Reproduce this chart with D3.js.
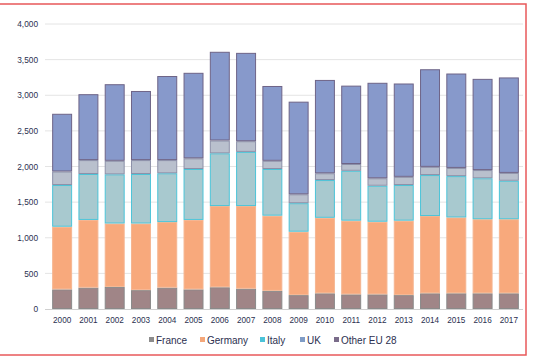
<!DOCTYPE html>
<html><head><meta charset="utf-8">
<script src="https://cdn.jsdelivr.net/npm/d3@7"></script>
<style>
html,body{margin:0;padding:0;background:#fff;}
svg{display:block;font-family:"Liberation Sans",Arial,sans-serif;}
</style>
</head><body>
<svg id="chart" width="533" height="359"></svg>
<script>
const years = ["2000","2001","2002","2003","2004","2005","2006","2007","2008","2009","2010","2011","2012","2013","2014","2015","2016","2017"];
const seriesNames = ["France","Germany","Italy","UK","Other EU 28"];
const france  = [275,300,310,265,300,275,305,285,255,195,220,205,205,195,220,220,220,220];
const germany = [880,950,890,935,920,975,1140,1160,1055,890,1060,1035,1020,1045,1085,1065,1040,1040];
const italy   = [585,645,690,695,685,715,740,760,655,400,530,700,505,500,575,580,575,540];
const uk      = [190,195,190,195,185,150,180,150,115,125,95,95,105,115,115,115,115,110];
const other   = [810,925,1075,970,1180,1200,1245,1240,1050,1300,1310,1100,1340,1310,1370,1325,1280,1340];
const yTicks = [0,500,1000,1500,2000,2500,3000,3500,4000];

const fills   = ["#a08587","#f8a97c","#a8c9cf","#b9c0cd","#8799cb"];
const strokes = ["#8a8a8a","#f5b591","#4cc4d8","#8c90a8","#6e6487"];
const legendColors = ["#8c8c8c","#f4a77a","#4cc3d9","#7f9cc6","#7a6c8a"];

const values = [france, germany, italy, uk, other];
const rows = years.map((y,i)=>{
  const r = {year:y};
  seriesNames.forEach((s,k)=> r[s] = values[k][i]);
  return r;
});
const stacked = d3.stack().keys(seriesNames)(rows);

const svg = d3.select("#chart");
// red frame
svg.append("rect").attr("x",-2).attr("y",4).attr("width",528).attr("height",351)
  .attr("fill","none").attr("stroke","#e8585a").attr("stroke-width",1.5);

const x = d3.scaleBand().domain(years).range([49,522]).paddingInner(0.24).paddingOuter(0.12);
const y = d3.scaleLinear().domain([0,4000]).range([309,24]);

// gridlines
svg.append("g").selectAll("line").data(yTicks.filter(t=>t>0)).join("line")
  .attr("x1",45).attr("x2",523).attr("y1",d=>y(d)).attr("y2",d=>y(d))
  .attr("stroke","#e4e4e4").attr("stroke-width",1);

// y axis labels
const yAxis = d3.axisLeft(y).tickValues(yTicks).tickSize(0).tickPadding(0)
  .tickFormat(d3.format(","));
const gy = svg.append("g").attr("transform","translate(38,0)").call(yAxis);
gy.select(".domain").remove();
gy.selectAll("text").attr("fill","#2b3050").style("font-size","8.3px");

// bars
svg.append("g").selectAll("g").data(stacked).join("g")
  .attr("fill",(d,i)=>fills[i]).attr("stroke",(d,i)=>strokes[i])
  .selectAll("rect").data(d=>d).join("rect")
  .attr("x",d=>x(d.data.year)+0.5)
  .attr("width",x.bandwidth()-1)
  .attr("y",d=>y(d[1])+0.5)
  .attr("height",d=>Math.max(0,y(d[0])-y(d[1])-1))
  .attr("stroke-width",1);

// x axis
const xAxis = d3.axisBottom(x).tickSize(0).tickPadding(8);
const gx = svg.append("g").attr("transform","translate(0,309)").call(xAxis);
gx.select(".domain").attr("stroke","#d0d0d0").attr("d","M45,0.5H523");
gx.selectAll("text").attr("fill","#2b3050").style("font-size","8.2px");

// legend
const legendX = [149,200,260,300,334];
const lg = svg.append("g").attr("transform","translate(0,340)");
const items = lg.selectAll("g").data(seriesNames).join("g")
  .attr("transform",(d,i)=>`translate(${legendX[i]},0)`);
items.append("rect").attr("x",0).attr("y",-3).attr("width",5).attr("height",5)
  .attr("fill",(d,i)=>legendColors[i]);
items.append("text").attr("x",7).attr("y",3.5).text(d=>d)
  .attr("fill","#2b3050").style("font-size","10px");
</script>
</body></html>
